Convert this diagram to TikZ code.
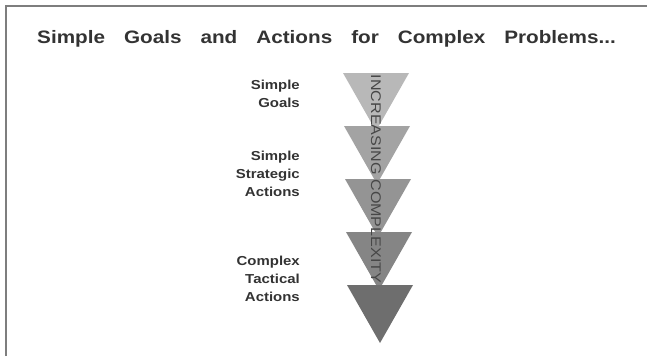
\documentclass[tikz,border=0pt]{standalone}
\usepackage{fontspec}
\setmainfont[FakeStretch=1.15]{Liberation Sans}
\usepackage{tikz}

\definecolor{framegray}{HTML}{7E7E7E}
\definecolor{inkgray}{HTML}{333333}

\begin{document}
\begin{tikzpicture}[
        x=1pt, y=-1pt,
        inner sep=0pt,
        title/.style={anchor=base west, text=inkgray,
          font=\fontsize{18}{22}\selectfont\bfseries},
        stage/.style={anchor=east, align=right, text=inkgray,
          font=\fontsize{13}{18}\selectfont\bfseries},
        trend/.style={rotate=-90, text=black!72,
          font=\fontsize{14}{16}\selectfont}
      ]
      \useasboundingbox (0,0) rectangle (647,356);
      % frame
      \draw[framegray, line width=2pt] (6,356) -- (6,6) -- (647,6);

      \node (title) [title] at (37,43) {\spaceskip=19pt\relax Simple Goals and Actions for Complex Problems...};

      % stacked triangles
      \foreach \i/\shade in {0/72,1/64,2/58,3/52,4/43} {
        \fill[white!\shade!black]
          (343+\i,73+53*\i) -- (409+\i,73+53*\i) -- (376+\i,131+53*\i) -- cycle;
      }

      \node (trend) [trend] at (376,179) {INCREASING COMPLEXITY};

      \node (goals) [stage] at (300,94) {Simple\\Goals};
      \node (strategic) [stage] at (300,174) {Simple\\Strategic\\Actions};
      \node (tactical) [stage] at (300,279) {Complex\\Tactical\\Actions};
    \end{tikzpicture}
\end{document}
